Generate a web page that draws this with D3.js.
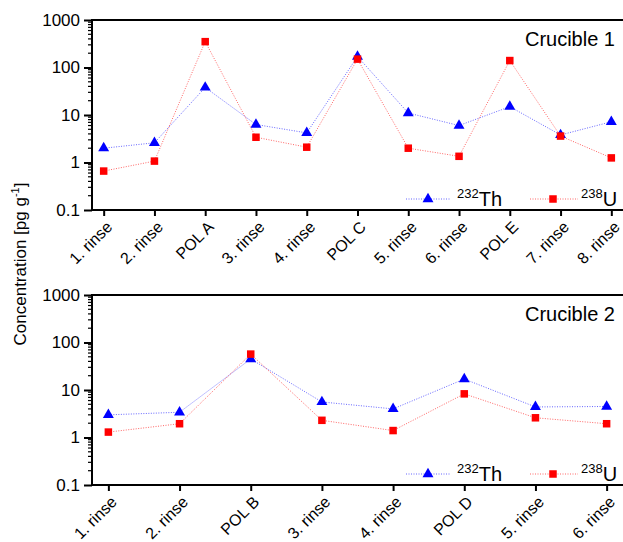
<!DOCTYPE html>
<html>
<head>
<meta charset="utf-8">
<script src="https://cdn.jsdelivr.net/npm/d3@7"></script>
<style>
    body { margin: 0; background: #fff; }
    text { font-family: "Liberation Sans", Arial, sans-serif; fill: #000; }
</style>
</head>
<body>
<svg id="chart" width="623" height="542"></svg>
<script>
// DATA
let cats_crucible1 = ["1. rinse", "2. rinse", "POL A", "3. rinse", "4. rinse", "POL C", "5. rinse", "6. rinse", "POL E", "7. rinse", "8. rinse"]
let th_crucible1 = [2.0, 2.6, 38, 6.3, 4.2, 170, 11, 6.0, 15, 3.8, 7.2]
let u_crucible1 = [0.66, 1.07, 350, 3.4, 2.1, 150, 2.0, 1.35, 140, 3.6, 1.25]

let cats_crucible2 = ["1. rinse", "2. rinse", "POL B", "3. rinse", "4. rinse", "POL D", "5. rinse", "6. rinse"]
let th_crucible2 = [3.0, 3.4, 45, 5.6, 4.0, 17, 4.4, 4.5]
let u_crucible2 = [1.3, 1.95, 57, 2.3, 1.4, 8.3, 2.6, 1.95]

let y_ticks = [0.1, 1, 10, 100, 1000]
let y_tick_labels = ["0.1", "1", "10", "100", "1000"]

let svg = d3.select('#chart')

let left = 92
let right = 623
let panelHeight = 190

function draw_panel(top, cats, th, u, title) {

    let g = svg.append('g')
        .attr('transform', `translate(0,${top})`)

    // SCALES
    let x = d3.scalePoint()
        .domain(cats)
        .range([left, right])
        .padding(0.23)
    let y = d3.scaleLog()
        .domain([0.1, 1000])
        .range([panelHeight, 0])

    // MINOR Y TICKS
    let minor = []
    for (let d = 0.1; d < 1000; d *= 10) {
        for (let k = 2; k <= 9; k++) minor.push(d * k)
    }
    g.selectAll('.minor')
        .data(minor)
        .join('line')
        .attr('x1', left - 4)
        .attr('x2', left)
        .attr('y1', d => y(d))
        .attr('y2', d => y(d))
        .attr('stroke', '#000')
        .attr('stroke-width', 1.2)

    // Y AXIS
    let yAxis = g.append('g')
        .attr('transform', `translate(${left},0)`)
        .call(d3.axisLeft(y).tickValues(y_ticks).tickSize(8).tickPadding(4)
            .tickFormat((d, i) => y_tick_labels[i]))
    yAxis.select('.domain').remove()
    yAxis.selectAll('line').attr('stroke-width', 2)
    yAxis.selectAll('text')
        .attr('font-size', 17)
        .attr('font-family', '"Liberation Sans", Arial, sans-serif')

    // X AXIS
    let xAxis = g.append('g')
        .attr('transform', `translate(0,${panelHeight})`)
        .call(d3.axisBottom(x).tickSize(6).tickSizeOuter(0))
    xAxis.select('.domain').remove()
    xAxis.selectAll('line').attr('stroke-width', 2)
    xAxis.selectAll('text')
        .attr('font-size', 16)
        .attr('font-family', '"Liberation Sans", Arial, sans-serif')
        .style('text-anchor', 'end')
        .attr('x', 0)
        .attr('y', 0)
        .attr('dy', 0)
        .attr('transform', 'translate(9,18) rotate(-45)')

    // FRAME (top, bottom, left)
    g.append('line')
        .attr('x1', left).attr('x2', right).attr('y1', 0).attr('y2', 0)
        .attr('stroke', '#000').attr('stroke-width', 2)
    g.append('line')
        .attr('x1', left - 1).attr('x2', right).attr('y1', panelHeight).attr('y2', panelHeight)
        .attr('stroke', '#000').attr('stroke-width', 2)
    g.append('line')
        .attr('x1', left).attr('x2', left).attr('y1', -1).attr('y2', panelHeight + 1)
        .attr('stroke', '#000').attr('stroke-width', 2)

    // LINES
    let line = d3.line()
        .x(d => x(d[0]))
        .y(d => y(d[1]))

    g.append('path')
        .datum(cats.map((c, i) => [c, th[i]]))
        .attr('d', line)
        .attr('fill', 'none')
        .attr('stroke', '#0000ff')
        .attr('stroke-opacity', 0.6)
        .attr('stroke-width', 1)
        .attr('stroke-dasharray', '1,1.5')

    g.append('path')
        .datum(cats.map((c, i) => [c, u[i]]))
        .attr('d', line)
        .attr('fill', 'none')
        .attr('stroke', '#ff0000')
        .attr('stroke-opacity', 0.6)
        .attr('stroke-width', 1)
        .attr('stroke-dasharray', '1,1.5')

    // MARKERS
    let tri = d3.symbol().type(d3.symbolTriangle).size(52)
    g.selectAll('.th')
        .data(cats.map((c, i) => [c, th[i]]))
        .join('path')
        .attr('d', tri)
        .attr('transform', d => `translate(${x(d[0])},${y(d[1])})`)
        .attr('fill', '#0000ff')

    g.selectAll('.u')
        .data(cats.map((c, i) => [c, u[i]]))
        .join('rect')
        .attr('x', d => x(d[0]) - 3.75)
        .attr('y', d => y(d[1]) - 3.75)
        .attr('width', 7.5)
        .attr('height', 7.5)
        .attr('fill', '#ff0000')

    // TITLE
    g.append('text')
        .attr('x', 615)
        .attr('y', 26)
        .attr('text-anchor', 'end')
        .attr('font-size', 20)
        .text(title)

    // LEGEND
    let ly = 179
    g.append('line')
        .attr('x1', 406).attr('x2', 450).attr('y1', ly).attr('y2', ly)
        .attr('stroke', '#0000ff').attr('stroke-opacity', 0.6)
        .attr('stroke-dasharray', '1,1.5')
    g.append('path')
        .attr('d', tri)
        .attr('transform', `translate(428,${ly})`)
        .attr('fill', '#0000ff')
    let t1 = g.append('text')
        .attr('x', 457)
        .attr('y', ly + 7)
        .attr('font-size', 20)
    t1.append('tspan').attr('font-size', 13).attr('dy', -8).text('232')
    t1.append('tspan').attr('dy', 8).text('Th')

    g.append('line')
        .attr('x1', 530).attr('x2', 578).attr('y1', ly).attr('y2', ly)
        .attr('stroke', '#ff0000').attr('stroke-opacity', 0.6)
        .attr('stroke-dasharray', '1,1.5')
    g.append('rect')
        .attr('x', 553 - 3.75).attr('y', ly - 3.75)
        .attr('width', 7.5).attr('height', 7.5)
        .attr('fill', '#ff0000')
    let t2 = g.append('text')
        .attr('x', 581)
        .attr('y', ly + 7)
        .attr('font-size', 20)
    t2.append('tspan').attr('font-size', 13).attr('dy', -8).text('238')
    t2.append('tspan').attr('dy', 8).text('U')
}

draw_panel(20, cats_crucible1, th_crucible1, u_crucible1, "Crucible 1")
draw_panel(295, cats_crucible2, th_crucible2, u_crucible2, "Crucible 2")

// Y AXIS LABEL
let ylab = svg.append('text')
    .attr('transform', 'translate(26,264) rotate(-90)')
    .attr('text-anchor', 'middle')
    .attr('font-size', 17)
ylab.append('tspan').text('Concentration [pg g')
ylab.append('tspan').attr('font-size', 11).attr('dy', -7).text('-1')
ylab.append('tspan').attr('dy', 7).text(']')
</script>
</body>
</html>
